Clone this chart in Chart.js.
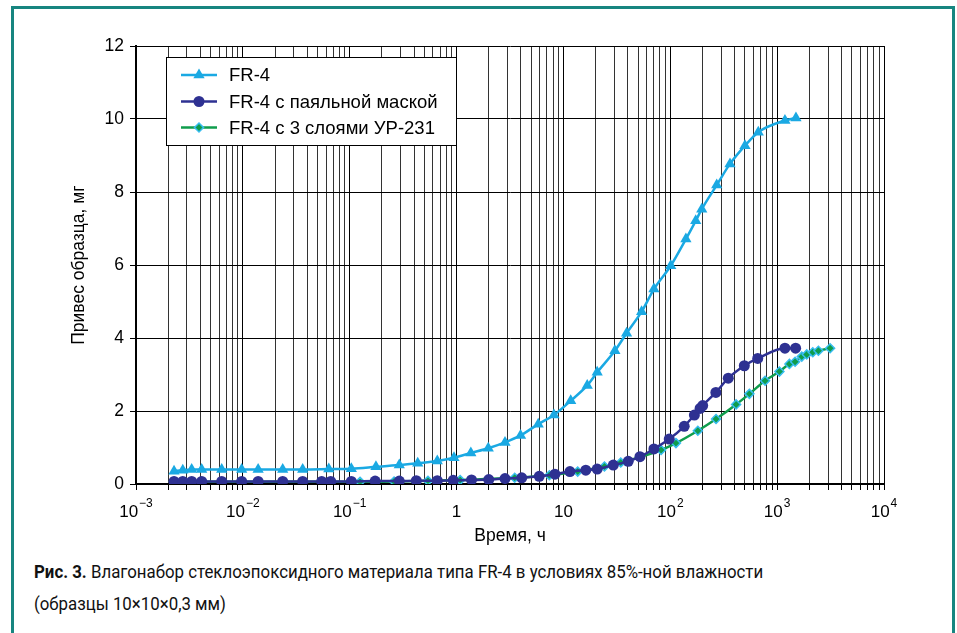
<!DOCTYPE html>
<html>
<head>
<meta charset="utf-8">
<script src="https://cdn.jsdelivr.net/npm/chart.js@4.4.0/dist/chart.umd.min.js"></script>
<style>
    html, body { margin: 0; padding: 0; background: #fff; }
    #wrap { position: relative; width: 957px; height: 633px; overflow: hidden; background: #fff; }
    #frame { position: absolute; left: 11px; top: 6px; width: 944px; height: 700px; border: 3px solid #178580; box-sizing: border-box; }
    #cv { position: absolute; left: 0; top: 0; }
    .cap { position: absolute; left: 34px; font-family: Roboto, 'Noto Sans', sans-serif; font-size: 19px; line-height: 22px; color: #111; white-space: nowrap; transform-origin: 0 50%; }
    .cap b { font-weight: bold; }
</style>
</head>
<body>
<div id="wrap">
    <div id="frame"></div>
    <canvas id="cv" width="957" height="560"></canvas>
    <div class="cap" id="cap1" style="top:561px"><b>Рис. 3.</b> Влагонабор стеклоэпоксидного материала типа FR-4 в условиях 85%-ной влажности</div>
    <div class="cap" id="cap2" style="top:593px">(образцы 10×10×0,3 мм)</div>
</div>
<script>
// время, ч  /  привес, мг
var fr4Time = [0.00227, 0.00274, 0.00332, 0.00412, 0.00634, 0.00975, 0.0139, 0.0236, 0.0363, 0.0637, 0.1035,
    0.176, 0.291, 0.433, 0.66, 0.946, 1.36, 1.98, 2.84, 3.97, 5.81, 8.15, 11.7, 16.7, 20.7, 30.3, 39.0, 53.9,
    70.3, 101, 140, 173, 197, 272, 362, 500, 666, 1183, 1500];
var fr4Gain = [0.35, 0.38, 0.40, 0.40, 0.40, 0.40, 0.40, 0.40, 0.40, 0.41, 0.42,
    0.47, 0.52, 0.57, 0.63, 0.72, 0.85, 0.98, 1.14, 1.33, 1.64, 1.89, 2.28, 2.70, 3.06, 3.65, 4.13, 4.72,
    5.34, 5.98, 6.71, 7.21, 7.53, 8.19, 8.77, 9.27, 9.64, 9.96, 10.03];

var maskTime = [0.00227, 0.00274, 0.00332, 0.00412, 0.00634, 0.00975, 0.0139, 0.0236, 0.0363, 0.0547, 0.0664, 0.1035,
    0.173, 0.291, 0.42, 0.66, 0.93, 1.38, 2.0, 2.84, 4.07, 5.94, 8.33, 11.5, 16.2, 20.7, 29.3, 40.4, 52.0,
    70.3, 97.8, 135, 168, 190, 201, 267, 349, 493, 658, 1183, 1489];
var maskGain = [0.07, 0.07, 0.07, 0.07, 0.07, 0.07, 0.07, 0.07, 0.07, 0.07, 0.07, 0.07,
    0.08, 0.08, 0.09, 0.09, 0.10, 0.11, 0.12, 0.15, 0.17, 0.21, 0.27, 0.34, 0.38, 0.41, 0.52, 0.62, 0.75,
    0.96, 1.23, 1.58, 1.89, 2.07, 2.15, 2.51, 2.90, 3.24, 3.44, 3.72, 3.72];

var urTime = [0.00227, 0.00412, 0.00975, 0.0236, 0.0547, 0.125, 0.26, 0.54, 1.08, 3.5, 7.38, 13.6, 24.2, 34.4,
    82.0, 113, 181, 268, 413, 550, 771, 1050, 1303, 1472, 1700, 1893, 2155, 2433, 3131];
var urGain = [0.06, 0.06, 0.06, 0.06, 0.06, 0.06, 0.07, 0.09, 0.11, 0.17, 0.24, 0.34, 0.48, 0.59,
    0.93, 1.12, 1.46, 1.78, 2.18, 2.47, 2.83, 3.08, 3.29, 3.35, 3.49, 3.55, 3.61, 3.65, 3.72];

var seriesNames = ['FR-4', 'FR-4 с паяльной маской', 'FR-4 с 3 слоями УР-231'];

var xTickValues = [0.001, 0.01, 0.1, 1, 10, 100, 1000, 10000];
var xTickBase = ['10', '10', '10', '1', '10', '10', '10', '10'];
var xTickExp = ['\u22123', '\u22122', '\u22121', '', '', '2', '3', '4'];

var FONT = "'Liberation Sans', Arial, sans-serif";

var toPoints = function (xs, ys) {
    return xs.map(function (x, i) { return {x: x, y: ys[i]}; });
};

var isDecade = function (v) {
    var l = Math.log10(v);
    return Math.abs(l - Math.round(l)) < 1e-6;
};

var drawMarker = function (ctx, style, r, x, y) {
    if (style === 'triangle') {
        var e = 3 * r / Math.sqrt(3), h = e * Math.sqrt(3) / 2;
        ctx.moveTo(x, y - 2 * h / 3);
        ctx.lineTo(x + e / 2, y + h / 3);
        ctx.lineTo(x - e / 2, y + h / 3);
        ctx.closePath();
    } else if (style === 'rectRot') {
        ctx.moveTo(x, y - r);
        ctx.lineTo(x + r, y);
        ctx.lineTo(x, y + r);
        ctx.lineTo(x - r, y);
        ctx.closePath();
    } else {
        ctx.arc(x, y, r, 0, Math.PI * 2);
    }
};

// подписи оси X со степенями
var xLabelsPlugin = {
    id: 'xLabels',
    afterDraw: function (chart) {
        var ctx = chart.ctx, xs = chart.scales.x;
        ctx.save();
        ctx.fillStyle = '#000';
        ctx.textBaseline = 'middle';
        ctx.textAlign = 'left';
        xTickValues.forEach(function (v, i) {
            var px = xs.getPixelForValue(v);
            ctx.font = '17px ' + FONT;
            var wb = ctx.measureText(xTickBase[i]).width;
            ctx.font = '12px ' + FONT;
            var we = xTickExp[i] ? ctx.measureText(xTickExp[i]).width + 1 : 0;
            var x0 = px - (wb + we) / 2;
            ctx.font = '17px ' + FONT;
            ctx.fillText(xTickBase[i], x0, 512);
            if (we) {
                ctx.font = '12px ' + FONT;
                ctx.fillText(xTickExp[i], x0 + wb + 1, 504);
            }
        });
        ctx.restore();
    }
};

// легенда внутри поля графика
var legendBoxPlugin = {
    id: 'legendBox',
    afterDraw: function (chart) {
        var ctx = chart.ctx;
        ctx.save();
        ctx.fillStyle = '#fff';
        ctx.fillRect(166, 57, 291, 88);
        ctx.strokeStyle = '#000';
        ctx.lineWidth = 1;
        ctx.strokeRect(166.5, 57.5, 290, 88);
        var rows = [75, 101.5, 127.5];
        chart.data.datasets.forEach(function (ds, r) {
            var y = rows[r];
            ctx.strokeStyle = ds.borderColor;
            ctx.lineWidth = ds.borderWidth;
            ctx.beginPath();
            ctx.moveTo(181, y);
            ctx.lineTo(217, y);
            ctx.stroke();
            ctx.fillStyle = ds.pointBackgroundColor;
            ctx.strokeStyle = ds.pointBorderColor;
            ctx.lineWidth = ds.pointBorderWidth;
            ctx.beginPath();
            drawMarker(ctx, ds.pointStyle, ds.pointRadius, 199, y);
            ctx.fill();
            if (ds.pointBorderWidth) ctx.stroke();
            ctx.fillStyle = '#000';
            ctx.font = '18.5px ' + FONT;
            ctx.textBaseline = 'middle';
            ctx.textAlign = 'left';
            ctx.fillText(ds.label, 229, y + 1);
        });
        ctx.restore();
    }
};

var initChart = function () {
    var ctx = document.getElementById('cv');

    var data = {
        datasets: [
            {
                label: seriesNames[0],
                data: toPoints(fr4Time, fr4Gain),
                borderColor: '#1aa9e3',
                backgroundColor: '#1aa9e3',
                pointBackgroundColor: '#1aa9e3',
                pointBorderColor: '#1aa9e3',
                pointBorderWidth: 0,
                pointStyle: 'triangle',
                pointRadius: 6.5,
                borderWidth: 2.5,
                cubicInterpolationMode: 'monotone',
                order: 0
            },
            {
                label: seriesNames[1],
                data: toPoints(maskTime, maskGain),
                borderColor: '#2e3192',
                backgroundColor: '#2e3192',
                pointBackgroundColor: '#2e3192',
                pointBorderColor: '#2e3192',
                pointBorderWidth: 0,
                pointStyle: 'circle',
                pointRadius: 5.5,
                borderWidth: 2.5,
                cubicInterpolationMode: 'monotone',
                order: 1
            },
            {
                label: seriesNames[2],
                data: toPoints(urTime, urGain),
                borderColor: '#0f9d4c',
                backgroundColor: '#0f9d4c',
                pointBackgroundColor: '#0f9d4c',
                pointBorderColor: '#38bdf0',
                pointBorderWidth: 1.5,
                pointStyle: 'rectRot',
                pointRadius: 4.5,
                borderWidth: 2.5,
                cubicInterpolationMode: 'monotone',
                order: 2
            }
        ]
    };

    new Chart(ctx, {
        type: 'line',
        data: data,
        options: {
            responsive: false,
            animation: false,
            events: [],
            layout: {padding: {left: 0, top: 46, right: 73, bottom: 0}},
            plugins: {legend: {display: false}, tooltip: {enabled: false}},
            scales: {
                x: {
                    type: 'logarithmic',
                    min: 0.001,
                    max: 10000,
                    afterBuildTicks: function (axis) {
                        var t = [];
                        for (var d = -3; d < 4; d++) {
                            for (var s = 1; s < 10; s++) t.push({value: s * Math.pow(10, d)});
                        }
                        t.push({value: 10000});
                        axis.ticks = t;
                    },
                    afterFit: function (scale) { scale.height = 76; },
                    border: {color: '#000', width: 2},
                    grid: {
                        color: function (c) { return c.tick && isDecade(c.tick.value) ? '#000' : '#333'; },
                        tickColor: '#000',
                        lineWidth: 1,
                        tickLength: 6
                    },
                    ticks: {autoSkip: false, maxRotation: 0, callback: function () { return ''; }},
                    title: {
                        display: true,
                        text: 'Время, ч',
                        color: '#000',
                        font: {size: 17.5, family: FONT},
                        padding: {top: 0, bottom: 13}
                    }
                },
                y: {
                    min: 0,
                    max: 12,
                    afterFit: function (scale) { scale.width = 136; },
                    border: {color: '#000', width: 2},
                    grid: {color: '#000', lineWidth: 1, tickLength: 6},
                    ticks: {stepSize: 2, color: '#000', padding: 6, font: {size: 17.5, family: FONT}},
                    title: {
                        display: true,
                        text: 'Привес образца, мг',
                        color: '#000',
                        font: {size: 17.5, family: FONT},
                        padding: {top: 69, bottom: 0}
                    }
                }
            }
        },
        plugins: [xLabelsPlugin, legendBoxPlugin]
    });
};

initChart();

// подпись сжата по ширине, как в оригинале
(function () {
    var c1 = document.getElementById('cap1'), c2 = document.getElementById('cap2');
    var k = 729 / c1.scrollWidth;
    c1.style.transform = 'scaleX(' + k + ')';
    c2.style.transform = 'scaleX(' + k + ')';
})();
</script>
</body>
</html>
